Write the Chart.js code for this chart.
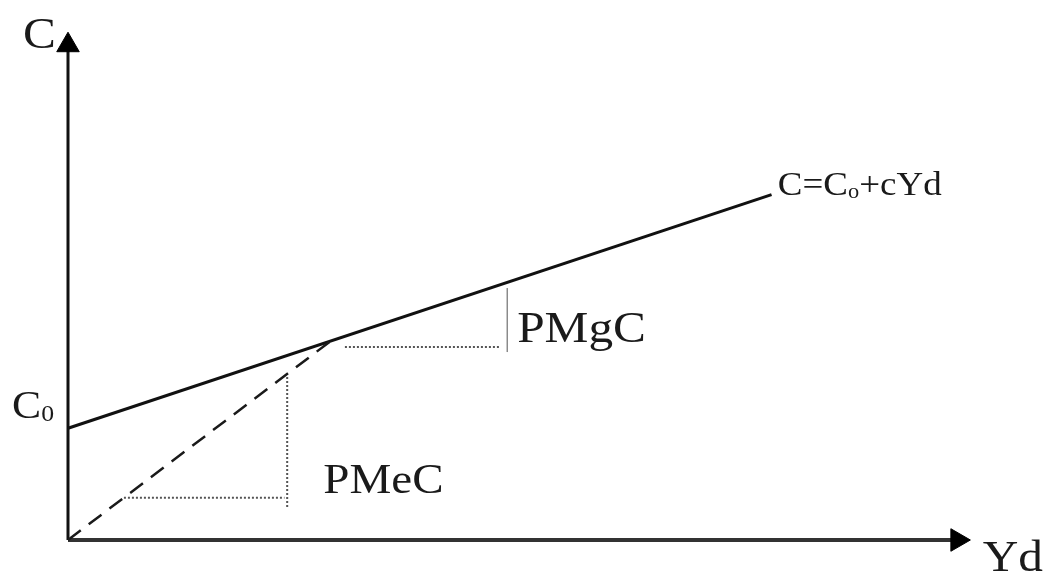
<!DOCTYPE html>
<html>
<head>
<meta charset="utf-8">
<script src="https://cdn.jsdelivr.net/npm/chart.js@4/dist/chart.umd.min.js"></script>
<style>
  html, body { margin: 0; padding: 0; background: #fff; }
  #wrap { width: 1043px; height: 572px; }
</style>
</head>
<body>
<div id="wrap"><canvas id="grafico" width="1043" height="572"></canvas></div>
<script>
// Función de consumo keynesiana: C = C0 + c·Yd
const consumoX = [0, 78];
const consumoY = [22, 68];

// Recta desde el origen hasta el punto A (propensión media)
const mediaX = [0, 29];
const mediaY = [0, 39];

// Triángulo de la PMeC (punteado): tramo horizontal y tramo vertical
const pmecHx = [6.2, 24.0];
const pmecHy = [8.3, 8.3];
const pmecVx = [24.3, 24.3];
const pmecVy = [6.5, 32.5];

// Triángulo de la PMgC (punteado): tramo horizontal y tramo vertical
const pmgcHx = [30.7, 47.9];
const pmgcHy = [38, 38];
const pmgcVx = [48.7, 48.7];
const pmgcVy = [37, 49.6];

// Ejes (último punto = flecha)
const ejeYx = [0, 0];
const ejeYy = [0, 97.4];
const ejeXx = [0, 98.6];
const ejeXy = [0, 0];

// Rótulos
const rotulos = [
  { texto: 'C', x: -5.0, y: 96.9, size: 44 },
  { texto: 'C', sub: '0', x: -6.2, y: 24.0, size: 39 },
  { texto: 'PMgC', x: 49.8, y: 39.0, size: 44 },
  { texto: 'PMeC', x: 28.3, y: 9.25, size: 42 },
  { texto: 'C=C', sub: 'o', resto: '+cYd', x: 78.7, y: 67.9, size: 33 },
  { texto: 'Yd', x: 101.4, y: -6.1, size: 44 }
];

const toPts = (xs, ys) => xs.map((x, i) => ({ x: x, y: ys[i] }));

// Plugin para escribir los rótulos (letra un poco ensanchada, como en el original)
const textosPlugin = {
  id: 'textos',
  afterDraw(chart) {
    const ctx = chart.ctx;
    const sx = chart.scales.x, sy = chart.scales.y;
    const estirar = 1.12;
    rotulos.forEach(r => {
      const px = sx.getPixelForValue(r.x);
      const py = sy.getPixelForValue(r.y);
      ctx.save();
      ctx.translate(px, py);
      ctx.scale(estirar, 1);
      ctx.fillStyle = '#1a1a1a';
      ctx.textBaseline = 'alphabetic';
      ctx.textAlign = 'left';
      ctx.font = r.size + 'px "Liberation Serif", "DejaVu Serif", serif';
      ctx.fillText(r.texto, 0, 0);
      let w = ctx.measureText(r.texto).width;
      if (r.sub) {
        const subSize = Math.round(r.size * 0.6);
        ctx.font = subSize + 'px "Liberation Serif", serif';
        ctx.fillText(r.sub, w, r.size * 0.08);
        w += ctx.measureText(r.sub).width;
      }
      if (r.resto) {
        ctx.font = r.size + 'px "Liberation Serif", serif';
        ctx.fillText(r.resto, w, 0);
      }
      ctx.restore();
    });
  }
};

const base = {
  showLine: true,
  fill: false,
  pointRadius: 0,
  clip: false,
  tension: 0
};

const punteado = { borderColor: '#555', borderWidth: 2, borderDash: [2, 2] };

new Chart(document.getElementById('grafico'), {
  type: 'scatter',
  data: {
    datasets: [
      Object.assign({}, base, punteado, { label: 'PMeC h', data: toPts(pmecHx, pmecHy) }),
      Object.assign({}, base, punteado, { label: 'PMeC v', data: toPts(pmecVx, pmecVy) }),
      Object.assign({}, base, punteado, { label: 'PMgC h', data: toPts(pmgcHx, pmgcHy) }),
      Object.assign({}, base, { label: 'PMgC v', data: toPts(pmgcVx, pmgcVy), borderColor: '#8a8a8a', borderWidth: 1.5 }),
      Object.assign({}, base, {
        label: 'Media',
        data: toPts(mediaX, mediaY),
        borderColor: '#1a1a1a',
        borderWidth: 2.5,
        borderDash: [16, 10]
      }),
      Object.assign({}, base, {
        label: 'Consumo',
        data: toPts(consumoX, consumoY),
        borderColor: '#111',
        borderWidth: 3
      }),
      Object.assign({}, base, {
        label: 'Eje Y',
        data: toPts(ejeYx, ejeYy),
        borderColor: '#111',
        borderWidth: 3,
        pointRadius: [0, 13],
        pointStyle: 'triangle',
        pointRotation: 0,
        pointBackgroundColor: '#000',
        pointBorderColor: '#000',
        pointBorderWidth: 1
      }),
      Object.assign({}, base, {
        label: 'Eje X',
        data: toPts(ejeXx, ejeXy),
        borderColor: '#333',
        borderWidth: 4,
        pointRadius: [0, 13],
        pointStyle: 'triangle',
        pointRotation: 90,
        pointBackgroundColor: '#000',
        pointBorderColor: '#000',
        pointBorderWidth: 1
      })
    ]
  },
  options: {
    responsive: false,
    animation: false,
    events: [],
    layout: { padding: { left: 68, right: 73, top: 32, bottom: 32 } },
    plugins: {
      legend: { display: false },
      tooltip: { enabled: false }
    },
    scales: {
      x: { type: 'linear', min: 0, max: 100, display: false },
      y: { type: 'linear', min: 0, max: 100, display: false }
    }
  },
  plugins: [textosPlugin]
});
</script>
</body>
</html>
